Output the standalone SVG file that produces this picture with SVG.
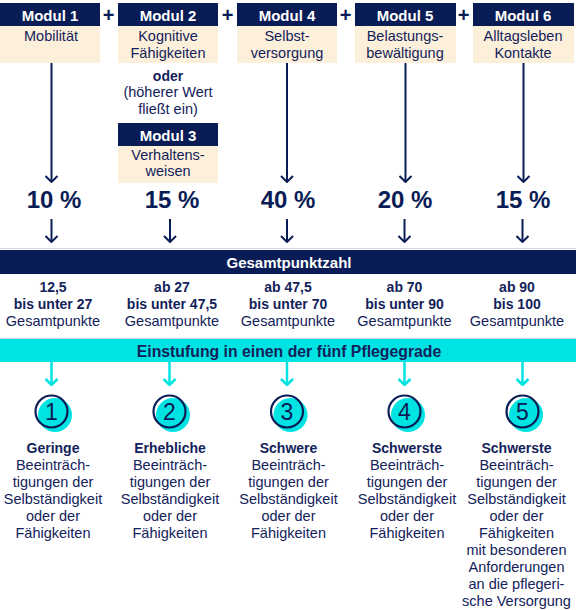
<svg xmlns="http://www.w3.org/2000/svg" width="576" height="610" viewBox="0 0 576 610">
<defs>
<style>
text{font-family:"Liberation Sans",Arial,sans-serif;fill:#13225a;text-anchor:middle}
.hd{fill:#fff;font-weight:bold;font-size:15px}
.rg{font-size:14.5px}
.b{font-weight:bold;font-size:14px}
.pc{font-weight:bold;font-size:24px;fill:#0a1c55}
.plus{font-weight:bold;font-size:20px;fill:#0a1c55}
.num{font-size:23px;fill:#0a1c55}
.navy{fill:#0a1c55}
.beige{fill:#fdf0da}
.cyan{fill:#00e3e3}
.ln{stroke:#0a1c55;stroke-width:2;fill:none}
.cl{stroke:#00e3e3;stroke-width:2.5;fill:none}
</style>
<marker id="ah" viewBox="0 0 8 14" refX="7" refY="7" markerWidth="8" markerHeight="14" markerUnits="userSpaceOnUse" orient="auto">
<polyline points="1,1 7,7 1,13" fill="none" stroke="#0a1c55" stroke-width="2"/>
</marker>
<marker id="ahc" viewBox="0 0 8 14" refX="7" refY="7" markerWidth="8" markerHeight="14" markerUnits="userSpaceOnUse" orient="auto">
<polyline points="1,1 7,7 1,13" fill="none" stroke="#00e3e3" stroke-width="2.5"/>
</marker>
</defs>
<rect width="576" height="610" fill="#fff"/>

<g id="modul1">
<rect class="navy" x="0" y="3" width="100" height="23"/>
<rect class="beige" x="0" y="26" width="100" height="37"/>
<text class="hd" x="50" y="21">Modul 1</text>
<text class="rg" x="51" y="41">Mobilität</text>
</g>
<g id="modul2">
<rect class="navy" x="118" y="3" width="100" height="23"/>
<rect class="beige" x="118" y="26" width="100" height="37"/>
<text class="hd" x="168" y="21">Modul 2</text>
<text class="rg" x="168" y="41">Kognitive</text>
<text class="rg" x="168" y="57.5">Fähigkeiten</text>
</g>
<g id="oder">
<text class="b" x="168" y="81">oder</text>
<text class="rg" x="168" y="97">(höherer Wert</text>
<text class="rg" x="168" y="114">fließt ein)</text>
</g>
<g id="modul3">
<rect class="navy" x="118" y="123" width="100" height="23"/>
<rect class="beige" x="118" y="146" width="100" height="37"/>
<text class="hd" x="168" y="141">Modul 3</text>
<text class="rg" x="168" y="159.5">Verhaltens-</text>
<text class="rg" x="168" y="175.5">weisen</text>
</g>
<g id="modul4">
<rect class="navy" x="237" y="3" width="100" height="23"/>
<rect class="beige" x="237" y="26" width="100" height="37"/>
<text class="hd" x="287" y="21">Modul 4</text>
<text class="rg" x="287" y="41">Selbst-</text>
<text class="rg" x="287" y="57.5">versorgung</text>
</g>
<g id="modul5">
<rect class="navy" x="355" y="3" width="101" height="23"/>
<rect class="beige" x="355" y="26" width="101" height="37"/>
<text class="hd" x="405" y="21">Modul 5</text>
<text class="rg" x="405" y="41">Belastungs-</text>
<text class="rg" x="405" y="57.5">bewältigung</text>
</g>
<g id="modul6">
<rect class="navy" x="473" y="3" width="101" height="23"/>
<rect class="beige" x="473" y="26" width="101" height="37"/>
<text class="hd" x="523" y="21">Modul 6</text>
<text class="rg" x="523" y="41">Alltagsleben</text>
<text class="rg" x="523" y="57.5">Kontakte</text>
</g>
<g id="plus">
<text class="plus" x="108.5" y="22">+</text>
<text class="plus" x="227.5" y="22">+</text>
<text class="plus" x="345.5" y="22">+</text>
<text class="plus" x="463.5" y="22">+</text>
</g>

<g id="prozente">
<text class="pc" x="54" y="208">10 %</text>
<text class="pc" x="172" y="208">15 %</text>
<text class="pc" x="288" y="208">40 %</text>
<text class="pc" x="405" y="208">20 %</text>
<text class="pc" x="523" y="208">15 %</text>
</g>

<g id="connectors">
<line class="ln" x1="51.5" y1="63" x2="51.5" y2="182" marker-end="url(#ah)"/>
<line class="ln" x1="287" y1="63" x2="287" y2="182" marker-end="url(#ah)"/>
<line class="ln" x1="405.5" y1="63" x2="405.5" y2="182" marker-end="url(#ah)"/>
<line class="ln" x1="523.5" y1="63" x2="523.5" y2="182" marker-end="url(#ah)"/>
<line class="ln" x1="51.5" y1="219" x2="51.5" y2="242" marker-end="url(#ah)"/>
<line class="ln" x1="170" y1="219" x2="170" y2="242" marker-end="url(#ah)"/>
<line class="ln" x1="287" y1="219" x2="287" y2="242" marker-end="url(#ah)"/>
<line class="ln" x1="404.5" y1="219" x2="404.5" y2="242" marker-end="url(#ah)"/>
<line class="ln" x1="522.5" y1="219" x2="522.5" y2="242" marker-end="url(#ah)"/>
<line class="cl" x1="51.5" y1="361" x2="51.5" y2="385" marker-end="url(#ahc)"/>
<line class="cl" x1="169.5" y1="361" x2="169.5" y2="385" marker-end="url(#ahc)"/>
<line class="cl" x1="287" y1="361" x2="287" y2="385" marker-end="url(#ahc)"/>
<line class="cl" x1="404.5" y1="361" x2="404.5" y2="385" marker-end="url(#ahc)"/>
<line class="cl" x1="522.5" y1="361" x2="522.5" y2="385" marker-end="url(#ahc)"/>
</g>

<g id="gesamtpunktzahl">
<line x1="0" y1="248.5" x2="576" y2="248.5" stroke="#d3d6e4" stroke-width="1"/>
<rect class="navy" x="0" y="250" width="576" height="24"/>
<text class="hd" x="289" y="268">Gesamtpunktzahl</text>
</g>

<g id="punkte">
<text class="b" x="53" y="292">12,5</text>
<text class="b" x="53" y="309">bis unter 27</text>
<text class="rg" x="53" y="326">Gesamtpunkte</text>
<text class="b" x="172" y="292">ab 27</text>
<text class="b" x="172" y="309">bis unter 47,5</text>
<text class="rg" x="172" y="326">Gesamtpunkte</text>
<text class="b" x="288" y="292">ab 47,5</text>
<text class="b" x="288" y="309">bis unter 70</text>
<text class="rg" x="288" y="326">Gesamtpunkte</text>
<text class="b" x="404.5" y="292">ab 70</text>
<text class="b" x="404.5" y="309">bis unter 90</text>
<text class="rg" x="404.5" y="326">Gesamtpunkte</text>
<text class="b" x="517" y="292">ab 90</text>
<text class="b" x="517" y="309">bis 100</text>
<text class="rg" x="517" y="326">Gesamtpunkte</text>
</g>

<g id="einstufung">
<line x1="0" y1="338.5" x2="576" y2="338.5" stroke="#d3d6e4" stroke-width="1"/>
<rect class="cyan" x="0" y="339" width="576" height="23"/>
<text class="b" style="font-size:15.8px" x="289" y="357">Einstufung in einen der fünf Pflegegrade</text>
</g>

<g id="grad1">
<circle class="cyan" cx="55" cy="415" r="17"/>
<circle cx="51.5" cy="411.5" r="16" fill="none" stroke="#0a1c55" stroke-width="2.2"/>
<text class="num" x="51.5" y="419.5">1</text>
<text class="b" x="53" y="453">Geringe</text>
<text class="rg" x="53" y="470">Beeinträch-</text>
<text class="rg" x="53" y="487">tigungen der</text>
<text class="rg" x="53" y="504">Selbständigkeit</text>
<text class="rg" x="53" y="521">oder der</text>
<text class="rg" x="53" y="538">Fähigkeiten</text>
</g>
<g id="grad2">
<circle class="cyan" cx="173" cy="415" r="17"/>
<circle cx="169.5" cy="411.5" r="16" fill="none" stroke="#0a1c55" stroke-width="2.2"/>
<text class="num" x="169.5" y="419.5">2</text>
<text class="b" x="170" y="453">Erhebliche</text>
<text class="rg" x="170" y="470">Beeinträch-</text>
<text class="rg" x="170" y="487">tigungen der</text>
<text class="rg" x="170" y="504">Selbständigkeit</text>
<text class="rg" x="170" y="521">oder der</text>
<text class="rg" x="170" y="538">Fähigkeiten</text>
</g>
<g id="grad3">
<circle class="cyan" cx="290.5" cy="415" r="17"/>
<circle cx="287" cy="411.5" r="16" fill="none" stroke="#0a1c55" stroke-width="2.2"/>
<text class="num" x="287" y="419.5">3</text>
<text class="b" x="288.5" y="453">Schwere</text>
<text class="rg" x="288.5" y="470">Beeinträch-</text>
<text class="rg" x="288.5" y="487">tigungen der</text>
<text class="rg" x="288.5" y="504">Selbständigkeit</text>
<text class="rg" x="288.5" y="521">oder der</text>
<text class="rg" x="288.5" y="538">Fähigkeiten</text>
</g>
<g id="grad4">
<circle class="cyan" cx="408" cy="415" r="17"/>
<circle cx="404.5" cy="411.5" r="16" fill="none" stroke="#0a1c55" stroke-width="2.2"/>
<text class="num" x="404.5" y="419.5">4</text>
<text class="b" x="407" y="453">Schwerste</text>
<text class="rg" x="407" y="470">Beeinträch-</text>
<text class="rg" x="407" y="487">tigungen der</text>
<text class="rg" x="407" y="504">Selbständigkeit</text>
<text class="rg" x="407" y="521">oder der</text>
<text class="rg" x="407" y="538">Fähigkeiten</text>
</g>
<g id="grad5">
<circle class="cyan" cx="526" cy="415" r="17"/>
<circle cx="522.5" cy="411.5" r="16" fill="none" stroke="#0a1c55" stroke-width="2.2"/>
<text class="num" x="522.5" y="419.5">5</text>
<text class="b" x="516.5" y="453">Schwerste</text>
<text class="rg" x="516.5" y="470">Beeinträch-</text>
<text class="rg" x="516.5" y="487">tigungen der</text>
<text class="rg" x="516.5" y="504">Selbständigkeit</text>
<text class="rg" x="516.5" y="521">oder der</text>
<text class="rg" x="516.5" y="538">Fähigkeiten</text>
<text class="rg" x="516.5" y="555">mit besonderen</text>
<text class="rg" x="516.5" y="572">Anforderungen</text>
<text class="rg" x="516.5" y="589">an die pflegeri-</text>
<text class="rg" x="516.5" y="606">sche Versorgung</text>
</g>
</svg>
